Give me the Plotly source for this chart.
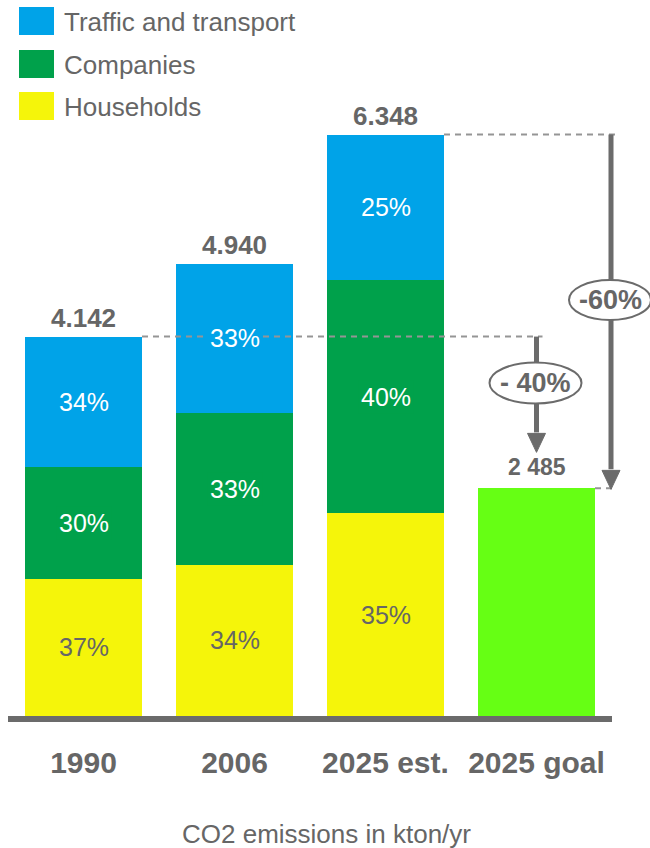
import plotly.graph_objects as go

# ---------------- data ----------------
categories = ["1990", "2006", "2025 est.", "2025 goal"]
series_names = ["Traffic and transport", "Companies", "Households"]
households = [1497, 1650, 2211]
companies = [1224, 1661, 2549]
traffic = [1421, 1629, 1588]
households_pct = ["37%", "34%", "35%"]
companies_pct = ["30%", "33%", "40%"]
traffic_pct = ["34%", "33%", "25%"]
totals = [4142, 4940, 6348]
total_labels = ["4.142", "4.940", "6.348"]
goal_value = [2485]
goal_label = ["2 485"]
reduction_labels = ["- 40%", "-60%"]
axis_title = "CO2 emissions in kton/yr"

# ---------------- style ----------------
FONT = "Liberation Sans, Arial, sans-serif"
GRAY = "#666666"
LINE_GRAY = "#6b6b6b"
DASH_GRAY = "#959595"
C_TRAFFIC = "#00A3E8"
C_COMP = "#00A14B"
C_HOUSE = "#F5F50A"
C_GOAL = "#66FF14"

W, H = 650, 848
ML, MR, MT, MB = 8, 0, 0, 124
PLOT_W = W - ML - MR
PLOT_H = H - MT - MB
PX_Y = 0.0916   # pixels per kton
PX_X = 151.0    # pixels per category step


def dy(px):
    return px / PX_Y


def dx(px):
    return px / PX_X


def paper_x(px):
    return (px - ML) / PLOT_W


def paper_y(py):
    return 1 - (py - MT) / PLOT_H


BAR_W = dx(117)
xs = list(range(len(categories)))
xs_stack = xs[:3]
x_goal = xs[3]

fig = go.Figure()
fig.add_trace(go.Bar(x=xs_stack, y=households, name=series_names[2],
                     marker=dict(color=C_HOUSE, line=dict(width=0)),
                     width=BAR_W, showlegend=False, hoverinfo="skip"))
fig.add_trace(go.Bar(x=xs_stack, y=companies, name=series_names[1],
                     marker=dict(color=C_COMP, line=dict(width=0)),
                     width=BAR_W, showlegend=False, hoverinfo="skip"))
fig.add_trace(go.Bar(x=xs_stack, y=traffic, name=series_names[0],
                     marker=dict(color=C_TRAFFIC, line=dict(width=0)),
                     width=BAR_W, showlegend=False, hoverinfo="skip"))
fig.add_trace(go.Bar(x=[x_goal], y=goal_value, name=categories[3],
                     marker=dict(color=C_GOAL, line=dict(width=0)),
                     width=BAR_W, showlegend=False, hoverinfo="skip"))

shapes = []
annotations = []

# baseline
shapes.append(dict(type="rect", xref="x", yref="y", x0=-0.5, x1=3.5,
                   y0=0, y1=-dy(6), fillcolor=LINE_GRAY, line=dict(width=0),
                   layer="above"))

x60 = 3 + dx(74.5)
half = BAR_W / 2
dash = dict(color=DASH_GRAY, width=2, dash="6px,5px")
# dashed reference lines
shapes.append(dict(type="line", xref="x", yref="y", x0=0 + half, x1=3 + dx(6),
                   y0=totals[0], y1=totals[0], line=dash, layer="above"))
shapes.append(dict(type="line", xref="x", yref="y", x0=2 + half, x1=x60 + dx(4),
                   y0=totals[2], y1=totals[2], line=dash, layer="above"))
shapes.append(dict(type="line", xref="x", yref="y", x0=3 + half, x1=x60 + dx(6),
                   y0=goal_value[0], y1=goal_value[0], line=dash, layer="above"))


def arrow(x, y_top, y_tip, head_len=19, head_half=9, lw=5):
    base = y_tip + dy(head_len)
    shapes.append(dict(type="line", xref="x", yref="y", x0=x, x1=x,
                       y0=y_top, y1=base + dy(1), line=dict(color=LINE_GRAY, width=lw),
                       layer="above"))
    path = "M {a},{b} L {c},{b} L {x},{t} Z".format(
        a=x - dx(head_half), c=x + dx(head_half), b=base, x=x, t=y_tip)
    shapes.append(dict(type="path", xref="x", yref="y", path=path,
                       fillcolor=LINE_GRAY, line=dict(color=LINE_GRAY, width=1),
                       layer="above"))


arrow(3, totals[0], goal_value[0] + dy(36))
arrow(x60, totals[2], goal_value[0] - dy(1))


def ellipse(cx, cy, hw, hh, text):
    shapes.append(dict(type="circle", xref="x", yref="y",
                       x0=cx - dx(hw), x1=cx + dx(hw), y0=cy - dy(hh), y1=cy + dy(hh),
                       fillcolor="white", line=dict(color=LINE_GRAY, width=2),
                       layer="above"))
    annotations.append(dict(x=cx, y=cy, xref="x", yref="y", text="<b>%s</b>" % text,
                            showarrow=False, xanchor="center", yanchor="middle",
                            font=dict(family=FONT, size=27, color=GRAY)))


ellipse(3 - dx(1), dy(716 - 383), 46, 20.5, reduction_labels[0])
ellipse(x60 - dx(1), dy(716 - 300), 41, 20, reduction_labels[1])

# segment percentages
for i in xs_stack:
    segs = [(households[i], households_pct[i], C_HOUSE, GRAY),
            (companies[i], companies_pct[i], C_COMP, "white"),
            (traffic[i], traffic_pct[i], C_TRAFFIC, "white")]
    base = 0
    for val, lab, col, tcol in segs:
        annotations.append(dict(x=i, y=base + val / 2, xref="x", yref="y", text=lab,
                                showarrow=False, xanchor="center", yanchor="middle",
                                bgcolor=col, borderpad=2,
                                font=dict(family=FONT, size=25, color=tcol)))
        base += val

# totals
for i in xs_stack:
    annotations.append(dict(x=i, y=totals[i], xref="x", yref="y",
                            text="<b>%s</b>" % total_labels[i], showarrow=False,
                            xanchor="center", yanchor="middle", yshift=19,
                            font=dict(family=FONT, size=26, color=GRAY)))
annotations.append(dict(x=x_goal, y=goal_value[0], xref="x", yref="y",
                        text="<b>%s</b>" % goal_label[0], showarrow=False,
                        xanchor="center", yanchor="middle", yshift=21,
                        font=dict(family=FONT, size=23, color=GRAY)))

# legend (manual)
leg_cols = [C_TRAFFIC, C_COMP, C_HOUSE]
leg_top = [7, 50, 92]
for name, col, top in zip(series_names, leg_cols, leg_top):
    shapes.append(dict(type="rect", xref="paper", yref="paper",
                       x0=paper_x(19), x1=paper_x(54), y0=paper_y(top + 28), y1=paper_y(top),
                       fillcolor=col, line=dict(width=0)))
    annotations.append(dict(x=paper_x(62), y=paper_y(top + 15), xref="paper", yref="paper",
                            text=name, showarrow=False, xanchor="left", yanchor="middle",
                            font=dict(family=FONT, size=26, color=GRAY)))

# axis title
annotations.append(dict(x=paper_x(326.5), y=paper_y(834), xref="paper", yref="paper",
                        text=axis_title, showarrow=False, xanchor="center", yanchor="middle",
                        font=dict(family=FONT, size=26, color=GRAY)))

fig.update_layout(
    width=W, height=H,
    margin=dict(l=ML, r=MR, t=MT, b=MB, pad=0),
    barmode="stack",
    plot_bgcolor="white", paper_bgcolor="white",
    shapes=shapes, annotations=annotations,
    showlegend=False,
    xaxis=dict(type="linear", range=[-0.5, -0.5 + dx(PLOT_W)],
               tickmode="array", tickvals=xs, ticktext=categories,
               tickfont=dict(family=FONT, size=30, color=GRAY, weight="bold"),
               ticks="", showline=False, showgrid=False, zeroline=False,
               ticklabelstandoff=18, fixedrange=True),
    yaxis=dict(range=[-dy(8), dy(716)], visible=False, showgrid=False,
               zeroline=False, fixedrange=True),
)

fig.write_html("out.html")
